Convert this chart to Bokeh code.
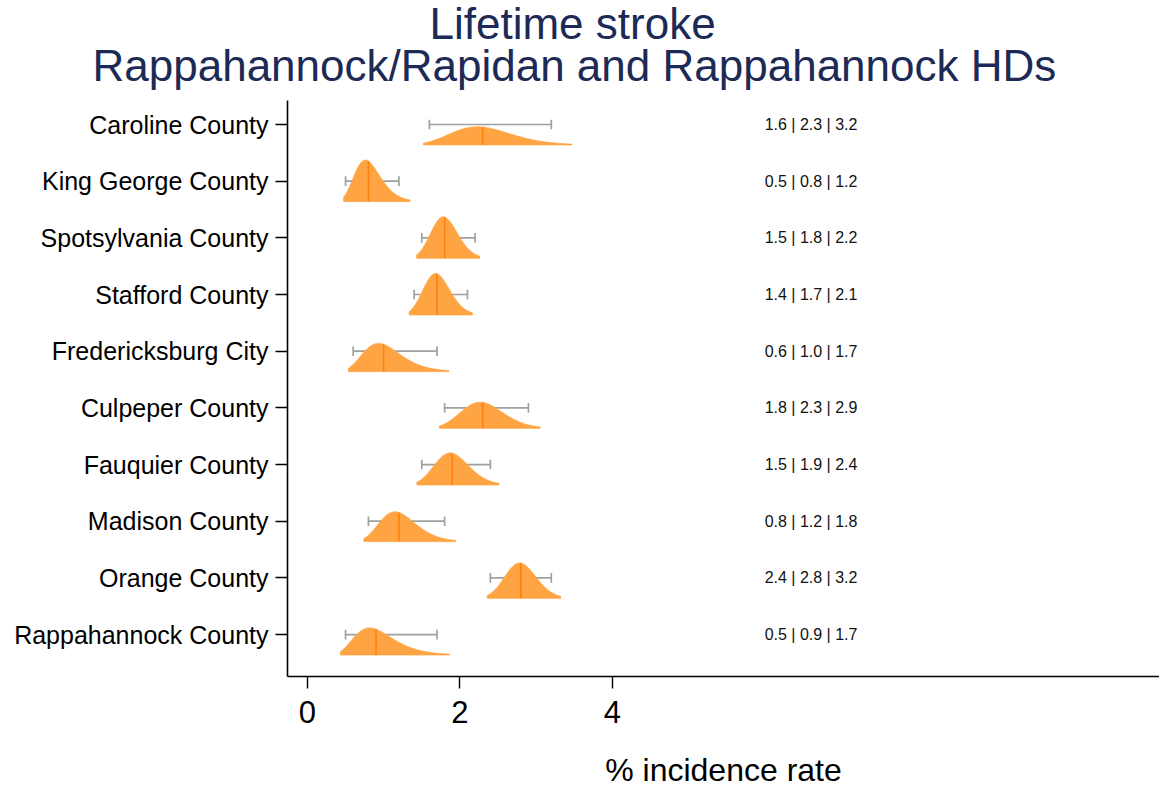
import numpy as np
from bokeh.plotting import figure
from bokeh.models import Range1d, FixedTicker, ColumnDataSource, Title
from bokeh.core.properties import value
from bokeh.embed import file_html
from bokeh.resources import INLINE

# ---- data ----
counties = ["Caroline County", "King George County", "Spotsylvania County",
            "Stafford County", "Fredericksburg City", "Culpeper County",
            "Fauquier County", "Madison County", "Orange County",
            "Rappahannock County"]
lo = [1.6, 0.5, 1.5, 1.4, 0.6, 1.8, 1.5, 0.8, 2.4, 0.5]
med = [2.3, 0.8, 1.8, 1.7, 1.0, 2.3, 1.9, 1.2, 2.8, 0.9]
hi = [3.2, 1.2, 2.2, 2.1, 1.7, 2.9, 2.4, 1.8, 3.2, 1.7]
x_ticks = [0, 2, 4]
title_lines = ["Lifetime stroke", "Rappahannock/Rapidan and Rappahannock HDs"]
x_label = "% incidence rate"

FONT = "Liberation Sans"
FILL = "#FFA442"
MEDC = "#FF8010"
GREY = "#A0A0A0"
NAVY = "#1C2A55"

ypos = list(range(1, len(counties) + 1))
BASE = 0.36      # baseline offset of the density below the category line
SCALE = 0.32     # density height scaling
TR = 2.33        # truncation in sigma units

p = figure(width=1159, height=792, output_backend="svg", toolbar_location=None,
           x_range=Range1d(-0.262, 11.182), y_range=Range1d(10.74, 0.5765),
           min_border_left=287, min_border_right=0, min_border_top=100,
           min_border_bottom=116)
p.background_fill_color = "white"
p.border_fill_color = "white"
p.outline_line_color = None
p.xgrid.visible = False
p.ygrid.visible = False

# error bars (behind the densities)
cap = 0.085
eb = ColumnDataSource(dict(lo=lo, hi=hi, y=ypos,
                           y0=[y - cap for y in ypos], y1=[y + cap for y in ypos]))
p.segment(x0="lo", x1="hi", y0="y", y1="y", source=eb, line_color=GREY, line_width=1.7)
p.segment(x0="lo", x1="lo", y0="y0", y1="y1", source=eb, line_color=GREY, line_width=1.7)
p.segment(x0="hi", x1="hi", y0="y0", y1="y1", source=eb, line_color=GREY, line_width=1.7)

# densities (log-normal shapes implied by the interval)
xs, ys, mx, my0, my1 = [], [], [], [], []
for y, l, m, h in zip(ypos, lo, med, hi):
    mu = np.log(m)
    sig = (np.log(h) - np.log(l)) / (2 * 1.96)
    t = np.linspace(-TR, TR, 200)
    xx = np.exp(mu + t * sig)
    pdf = np.exp(-0.5 * t ** 2) / (xx * sig * np.sqrt(2 * np.pi))
    base = y + BASE
    top = base - SCALE * pdf
    xs.append(list(xx) + [xx[-1], xx[0]])
    ys.append(list(top) + [base, base])
    pm = 1.0 / (m * sig * np.sqrt(2 * np.pi))
    mx.append(m)
    my0.append(base)
    my1.append(base - SCALE * pm)

p.patches(xs, ys, fill_color=FILL, line_color=FILL, line_width=0.8)
p.segment(x0=mx, x1=mx, y0=my0, y1=my1, line_color=MEDC, line_width=1.6)

# value annotations
ann = ColumnDataSource(dict(x=[6] * len(ypos), y=ypos,
                            t=[f"{a:.1f} | {b:.1f} | {c:.1f}" for a, b, c in zip(lo, med, hi)]))
p.text(x="x", y="y", text="t", source=ann, text_align="left", text_baseline="middle",
       text_font=value(FONT), text_font_size="16px", text_color="#111111")

# axes
p.yaxis.ticker = FixedTicker(ticks=ypos)
p.yaxis.major_label_overrides = {y: c for y, c in zip(ypos, counties)}
p.yaxis.major_label_text_font = FONT
p.yaxis.major_label_text_font_size = "25px"
p.yaxis.major_label_text_color = "black"
p.yaxis.major_tick_out = 12
p.yaxis.major_tick_in = 0
p.yaxis.minor_tick_line_color = None
p.yaxis.major_label_standoff = 7
p.yaxis.axis_line_width = 1.6
p.yaxis.major_tick_line_width = 1.4
p.yaxis.axis_line_color = "black"

p.xaxis.ticker = FixedTicker(ticks=x_ticks)
p.xaxis.major_label_text_font = FONT
p.xaxis.major_label_text_font_size = "31px"
p.xaxis.major_label_text_color = "black"
p.xaxis.major_tick_out = 12
p.xaxis.major_tick_in = 0
p.xaxis.minor_tick_line_color = None
p.xaxis.major_label_standoff = 12
p.xaxis.axis_line_width = 1.6
p.xaxis.major_tick_line_width = 1.4
p.xaxis.axis_line_color = "black"
p.xaxis.axis_label = x_label
p.xaxis.axis_label_text_font = FONT
p.xaxis.axis_label_text_font_size = "32px"
p.xaxis.axis_label_text_font_style = "normal"
p.xaxis.axis_label_text_color = "black"
p.xaxis.axis_label_standoff = 26

# two-line title (second line nearest the plot)
p.add_layout(Title(text=title_lines[1], align="left", offset=-195, standoff=22,
                   text_font=FONT, text_font_size="44px", text_font_style="normal",
                   text_color=NAVY), "above")
p.add_layout(Title(text=title_lines[0], align="left", offset=142, standoff=-40,
                   text_font=FONT, text_font_size="44px", text_font_style="normal",
                   text_color=NAVY), "above")

open("out.html", "w").write(file_html(p, INLINE))
